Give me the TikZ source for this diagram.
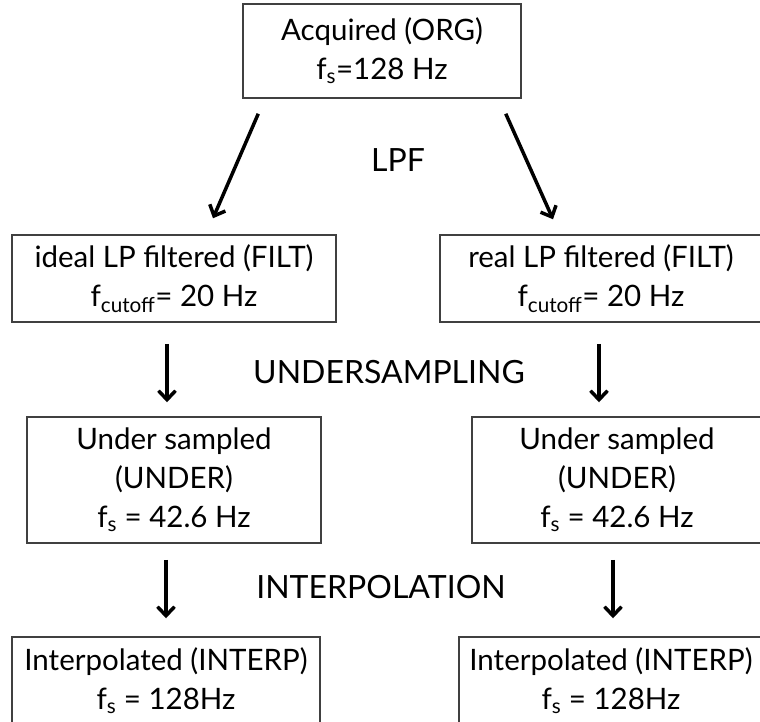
\documentclass[tikz,border=0pt]{standalone}
\usepackage{fontspec}
\setmainfont{Lato}
\usetikzlibrary{arrows.meta}

\tikzset{every picture/.style={line width=0.75pt}}
\tikzset{
  stagebox/.style={draw={rgb,255:red,64;green,64;blue,64}, line width=1.5pt, align=center, inner sep=0pt, font=\fontsize{29.5}{39}\selectfont},
  steplabel/.style={font=\fontsize{32}{38}\selectfont},
  flowarrow/.style={-{Straight Barb[length=9pt,width=17pt,line width=3.5pt]}, line width=3.5pt}
}

\begin{document}
\begin{tikzpicture}[x=1pt,y=1pt,yscale=-1]
\useasboundingbox (0,0) rectangle (760,721);
\clip (0,0) rectangle (760,721);

% Boxes
\node[stagebox, minimum width=278pt, minimum height=94pt] (org) at (382,51) {Acquired (ORG)\\f\textsubscript{s}=128 Hz};
\node[stagebox, minimum width=324pt, minimum height=87pt] (filtL) at (174,278.5) {ideal LP filtered (FILT)\\f\textsubscript{cutoff}= 20 Hz};
\node[stagebox, minimum width=322pt, minimum height=87pt] (filtR) at (601,278.5) {real LP filtered (FILT)\\f\textsubscript{cutoff}= 20 Hz};
\node[stagebox, minimum width=294pt, minimum height=126pt] (underL) at (174,480) {Under sampled\\(UNDER)\\f\textsubscript{s} = 42.6 Hz};
\node[stagebox, minimum width=290pt, minimum height=126pt] (underR) at (617,480) {Under sampled\\(UNDER)\\f\textsubscript{s} = 42.6 Hz};
\node[stagebox, minimum width=308pt, minimum height=87pt] (interpL) at (166,680.5) {Interpolated (INTERP)\\f\textsubscript{s} = 128Hz};
\node[stagebox, minimum width=304pt, minimum height=87pt] (interpR) at (611,680.5) {Interpolated (INTERP)\\f\textsubscript{s} = 128Hz};

% Text Node
\node[steplabel] (lpf) at (398,160) {LPF};
% Text Node
\node[steplabel] (usmp) at (389,372) {UNDERSAMPLING};
% Text Node
\node[steplabel] (intp) at (381,587) {INTERPOLATION};

% Arrows
\draw[flowarrow] ([xshift=16pt,yshift=15pt]org.south west) -- ([xshift=39pt,yshift=-16pt]filtL.north);
\draw[flowarrow] ([xshift=-16pt,yshift=15pt]org.south east) -- ([xshift=-48pt,yshift=-15pt]filtR.north);
\draw[flowarrow] ([xshift=-7pt,yshift=21pt]filtL.south) -- ([xshift=-7pt,yshift=-14pt]underL.north);
\draw[flowarrow] ([xshift=-2pt,yshift=21pt]filtR.south) -- ([xshift=-18pt,yshift=-14pt]underR.north);
\draw[flowarrow] ([xshift=-8pt,yshift=16pt]underL.south) -- ([yshift=-18pt]interpL.north);
\draw[flowarrow] ([xshift=-4pt,yshift=16pt]underR.south) -- ([xshift=2pt,yshift=-18pt]interpR.north);

\end{tikzpicture}
\end{document}
